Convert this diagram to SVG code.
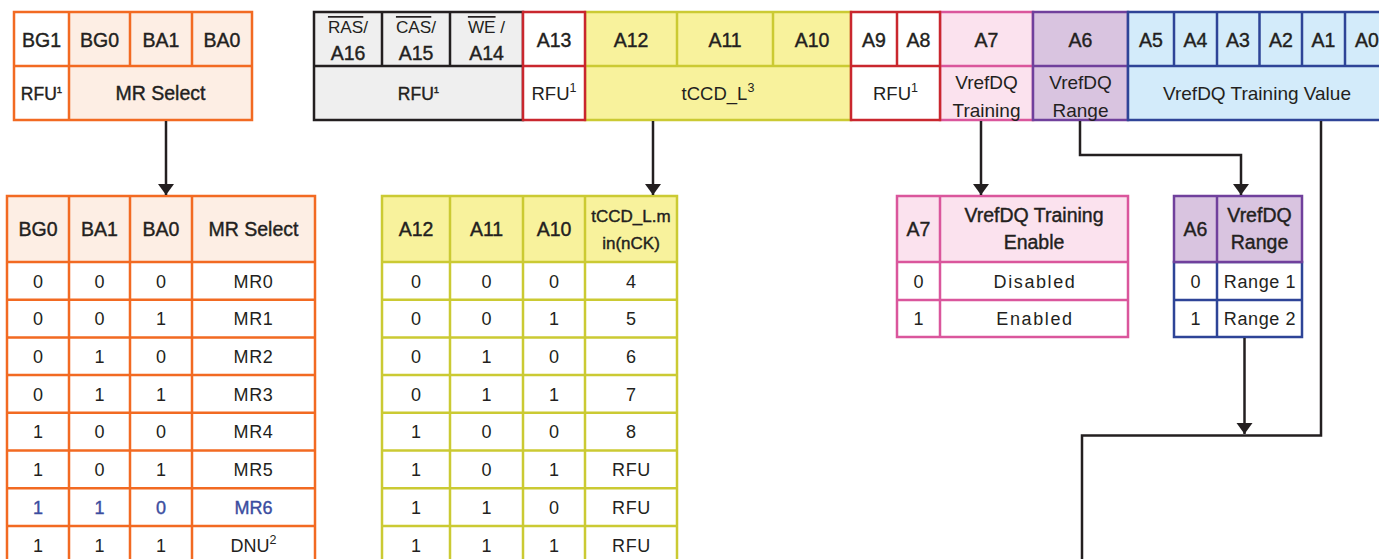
<svg xmlns="http://www.w3.org/2000/svg" width="1379" height="559" viewBox="0 0 1379 559">
<style>
text{font-family:"Liberation Sans",Arial,sans-serif;fill:#231f20;text-anchor:middle}
.hd{font-size:19.5px;stroke:#231f20;stroke-width:0.4}
.bd{font-size:18px}
.ov{font-size:17.2px}
.sp{letter-spacing:0.6px}
.sp2{letter-spacing:1.6px}
.blue{fill:#3B4DA0}
.or{stroke:#F26A22;stroke-width:2.5;fill:none}
.ye{stroke:#CBCA33;stroke-width:2.5;fill:none}
.pk{stroke:#DA569C;stroke-width:2.5;fill:none}
.pu{stroke:#70409C;stroke-width:2.5;fill:none}
.bl{stroke:#2E4497;stroke-width:2.5;fill:none}
.rd{stroke:#C9272E;stroke-width:2.5;fill:none}
.gy{stroke:#231f20;stroke-width:2.5;fill:none}
</style>
<defs>
<marker id="ah" markerUnits="userSpaceOnUse" markerWidth="12" markerHeight="17" refX="11" refY="8" orient="auto" overflow="visible">
<path d="M0,0 L11,8 L0,16 Z" fill="#231f20" stroke="none"/>
</marker>
</defs>
<rect width="1379" height="559" fill="#fff"/>

<g id="hdr-bank">
<rect x="14" y="12" width="238" height="108" fill="#FDEEE4"/>
<rect x="14" y="12" width="55" height="108" fill="#fff"/>
<rect x="14" y="12" width="238" height="108" class="or"/>
<path class="or" d="M69,12V120M130,12V66M192,12V66M14,66H252"/>
<text class="hd" x="41.5" y="46.5">BG1</text>
<text class="hd" x="99.5" y="46.5">BG0</text>
<text class="hd" x="161" y="46.5">BA1</text>
<text class="hd" x="222" y="46.5">BA0</text>
<text class="hd" x="41.5" y="100" style="font-size:17.5px">RFU<tspan font-size="9.5" dy="-7">1</tspan></text>
<text class="hd" x="160.5" y="99.5">MR Select</text>
</g>

<g id="hdr-cmd">
<rect x="314" y="12" width="209" height="108" fill="#EFEFEF"/>
<rect x="314" y="12" width="209" height="108" class="gy"/>
<path class="gy" d="M382,12V66M450,12V66M314,66H523"/>
<text class="bd ov" x="348" y="33"><tspan text-decoration="overline">RAS</tspan>/</text>
<text class="bd ov" x="416" y="33"><tspan text-decoration="overline">CAS</tspan>/</text>
<text class="bd ov" x="486.5" y="33"><tspan text-decoration="overline">WE</tspan> /</text>
<text class="hd" x="348" y="60">A16</text>
<text class="hd" x="416" y="60">A15</text>
<text class="hd" x="486.5" y="60">A14</text>
<text class="hd" x="418.5" y="100" style="font-size:17.5px">RFU<tspan font-size="9.5" dy="-7">1</tspan></text>
</g>

<g id="hdr-tccd">
<rect x="585" y="12" width="266" height="108" fill="#F8F29C"/>
<rect x="585" y="12" width="266" height="108" class="ye"/>
<path class="ye" d="M677,12V66M773,12V66M585,66H851"/>
<text class="hd" x="631" y="46.5">A12</text>
<text class="hd" x="725" y="46.5">A11</text>
<text class="hd" x="812" y="46.5">A10</text>
<text class="bd" x="718" y="100" style="font-size:18.5px">tCCD_L<tspan font-size="12.5" dy="-8">3</tspan></text>
</g>

<g id="hdr-a7">
<rect x="940" y="12" width="93" height="108" fill="#FBE2EE"/>
<rect x="940" y="12" width="93" height="108" class="pk"/>
<path class="pk" d="M940,66H1033"/>
<text class="hd" x="986.5" y="46.5">A7</text>
<text class="bd" x="986.5" y="88.5" style="font-size:19px">VrefDQ</text>
<text class="bd" x="986.5" y="116.5" style="font-size:19px">Training</text>
</g>

<g id="hdr-a6">
<rect x="1033" y="12" width="95" height="108" fill="#D9C4E0"/>
<rect x="1033" y="12" width="95" height="108" class="pu"/>
<path class="pu" d="M1033,66H1128"/>
<text class="hd" x="1080.5" y="46.5">A6</text>
<text class="bd" x="1080.5" y="88.5" style="font-size:19px">VrefDQ</text>
<text class="bd" x="1080.5" y="116.5" style="font-size:19px">Range</text>
</g>

<g id="hdr-value">
<rect x="1128" y="12" width="264" height="108" fill="#D3EBFA"/>
<rect x="1128" y="12" width="264" height="108" class="bl"/>
<path class="bl" d="M1174,12V66M1217,12V66M1259.5,12V66M1302,12V66M1345,12V66M1128,66H1392"/>
<text class="hd" x="1151" y="46.5">A5</text>
<text class="hd" x="1195.5" y="46.5">A4</text>
<text class="hd" x="1238" y="46.5">A3</text>
<text class="hd" x="1281" y="46.5">A2</text>
<text class="hd" x="1323.5" y="46.5">A1</text>
<text class="hd" x="1367" y="46.5">A0</text>
<text class="bd" x="1257" y="100" style="font-size:19px">VrefDQ Training Value</text>
</g>

<g id="hdr-a13">
<rect x="523" y="12" width="62" height="108" fill="#fff"/>
<rect x="523" y="12" width="62" height="108" class="rd"/>
<path class="rd" d="M523,66H585"/>
<text class="hd" x="554" y="46.5">A13</text>
<text class="bd" x="554" y="100" style="font-size:18.5px">RFU<tspan font-size="12.5" dy="-8">1</tspan></text>
</g>

<g id="hdr-a9a8">
<rect x="851" y="12" width="89" height="108" fill="#fff"/>
<rect x="851" y="12" width="89" height="108" class="rd"/>
<path class="rd" d="M897,12V66M851,66H940"/>
<text class="hd" x="874" y="46.5">A9</text>
<text class="hd" x="918.5" y="46.5">A8</text>
<text class="bd" x="895.5" y="100" style="font-size:18.5px">RFU<tspan font-size="12.5" dy="-8">1</tspan></text>
</g>

<g id="tbl-mr">
<rect x="7" y="196" width="308" height="380" fill="#fff"/>
<rect x="7" y="196" width="308" height="66" fill="#FDEEE4"/>
<rect x="7" y="196" width="308" height="380" class="or"/>
<path class="or" d="M69,196V576M130,196V576M192,196V576M7,262H315M7,299.7H315M7,337.4H315M7,375.1H315M7,412.8H315M7,450.5H315M7,488.2H315M7,525.9H315"/>
<text class="hd" x="38" y="236">BG0</text>
<text class="hd" x="99.5" y="236">BA1</text>
<text class="hd" x="161" y="236">BA0</text>
<text class="hd" x="253.5" y="236">MR Select</text>
<text class="bd" x="38" y="287.5">0</text><text class="bd" x="99.5" y="287.5">0</text><text class="bd" x="161" y="287.5">0</text><text class="bd sp" x="253.5" y="287.5">MR0</text>
<text class="bd" x="38" y="325.2">0</text><text class="bd" x="99.5" y="325.2">0</text><text class="bd" x="161" y="325.2">1</text><text class="bd sp" x="253.5" y="325.2">MR1</text>
<text class="bd" x="38" y="362.9">0</text><text class="bd" x="99.5" y="362.9">1</text><text class="bd" x="161" y="362.9">0</text><text class="bd sp" x="253.5" y="362.9">MR2</text>
<text class="bd" x="38" y="400.6">0</text><text class="bd" x="99.5" y="400.6">1</text><text class="bd" x="161" y="400.6">1</text><text class="bd sp" x="253.5" y="400.6">MR3</text>
<text class="bd" x="38" y="438.3">1</text><text class="bd" x="99.5" y="438.3">0</text><text class="bd" x="161" y="438.3">0</text><text class="bd sp" x="253.5" y="438.3">MR4</text>
<text class="bd" x="38" y="476">1</text><text class="bd" x="99.5" y="476">0</text><text class="bd" x="161" y="476">1</text><text class="bd sp" x="253.5" y="476">MR5</text>
<text class="bd blue" x="38" y="513.7" style="stroke:#3B4DA0;stroke-width:0.4">1</text><text class="bd blue" x="99.5" y="513.7" style="stroke:#3B4DA0;stroke-width:0.4">1</text><text class="bd blue" x="161" y="513.7" style="stroke:#3B4DA0;stroke-width:0.4">0</text><text class="bd blue" x="253.5" y="513.7" style="stroke:#3B4DA0;stroke-width:0.4">MR6</text>
<text class="bd" x="38" y="552">1</text><text class="bd" x="99.5" y="552">1</text><text class="bd" x="161" y="552">1</text><text class="bd" x="253.5" y="552">DNU<tspan font-size="12.5" dy="-8">2</tspan></text>
</g>

<g id="tbl-tccd">
<rect x="382" y="196" width="295" height="380" fill="#fff"/>
<rect x="382" y="196" width="295" height="66" fill="#F8F29C"/>
<rect x="382" y="196" width="295" height="380" class="ye"/>
<path class="ye" d="M450,196V576M523,196V576M585,196V576M382,262H677M382,299.7H677M382,337.4H677M382,375.1H677M382,412.8H677M382,450.5H677M382,488.2H677M382,525.9H677"/>
<text class="hd" x="416" y="236">A12</text>
<text class="hd" x="486.5" y="236">A11</text>
<text class="hd" x="554" y="236">A10</text>
<text class="hd" x="631" y="222" style="font-size:17px">tCCD_L.m</text>
<text class="hd" x="631" y="248.5" style="font-size:17px">in(nCK)</text>
<text class="bd" x="416" y="287.5">0</text><text class="bd" x="486.5" y="287.5">0</text><text class="bd" x="554" y="287.5">0</text><text class="bd" x="631" y="287.5">4</text>
<text class="bd" x="416" y="325.2">0</text><text class="bd" x="486.5" y="325.2">0</text><text class="bd" x="554" y="325.2">1</text><text class="bd" x="631" y="325.2">5</text>
<text class="bd" x="416" y="362.9">0</text><text class="bd" x="486.5" y="362.9">1</text><text class="bd" x="554" y="362.9">0</text><text class="bd" x="631" y="362.9">6</text>
<text class="bd" x="416" y="400.6">0</text><text class="bd" x="486.5" y="400.6">1</text><text class="bd" x="554" y="400.6">1</text><text class="bd" x="631" y="400.6">7</text>
<text class="bd" x="416" y="438.3">1</text><text class="bd" x="486.5" y="438.3">0</text><text class="bd" x="554" y="438.3">0</text><text class="bd" x="631" y="438.3">8</text>
<text class="bd" x="416" y="476">1</text><text class="bd" x="486.5" y="476">0</text><text class="bd" x="554" y="476">1</text><text class="bd sp" x="631.5" y="476">RFU</text>
<text class="bd" x="416" y="513.7">1</text><text class="bd" x="486.5" y="513.7">1</text><text class="bd" x="554" y="513.7">0</text><text class="bd sp" x="631.5" y="513.7">RFU</text>
<text class="bd" x="416" y="552">1</text><text class="bd" x="486.5" y="552">1</text><text class="bd" x="554" y="552">1</text><text class="bd sp" x="631.5" y="552">RFU</text>
</g>

<g id="tbl-a7">
<rect x="897" y="196" width="231" height="141" fill="#fff"/>
<rect x="897" y="196" width="231" height="66" fill="#FBE2EE"/>
<rect x="897" y="196" width="231" height="141" class="pk"/>
<path class="pk" d="M940,196V337M897,262H1128M897,300H1128"/>
<text class="hd" x="918.5" y="236">A7</text>
<text class="hd" x="1034" y="222">VrefDQ Training</text>
<text class="hd" x="1034" y="249">Enable</text>
<text class="bd" x="918.5" y="287.5">0</text>
<text class="bd sp2" x="1035" y="287.5">Disabled</text>
<text class="bd" x="918.5" y="325.2">1</text>
<text class="bd sp2" x="1035" y="325.2">Enabled</text>
</g>

<g id="tbl-a6">
<rect x="1174" y="262" width="128" height="75" fill="#fff"/>
<rect x="1174" y="262" width="128" height="75" class="bl"/>
<path class="bl" d="M1217,262V337M1174,300H1302"/>
<rect x="1174" y="196" width="128" height="66" fill="#D9C4E0"/>
<rect x="1174" y="196" width="128" height="66" class="pu"/>
<path class="pu" d="M1217,196V262"/>
<text class="hd" x="1195.5" y="236">A6</text>
<text class="hd" x="1259.5" y="222">VrefDQ</text>
<text class="hd" x="1259.5" y="249">Range</text>
<text class="bd" x="1195.5" y="287.5">0</text>
<text class="bd sp" x="1260" y="287.5">Range 1</text>
<text class="bd" x="1195.5" y="325.2">1</text>
<text class="bd sp" x="1260" y="325.2">Range 2</text>
</g>

<g id="connectors" fill="none" stroke="#231f20" stroke-width="2.5">
<path d="M166,121V195" marker-end="url(#ah)"/>
<path d="M653,121V195" marker-end="url(#ah)"/>
<path d="M981,121V195" marker-end="url(#ah)"/>
<path d="M1080,121V155H1241V195" marker-end="url(#ah)"/>
<path d="M1244.5,338V434" marker-end="url(#ah)"/>
<path d="M1321,121V435.5H1082V565"/>
</g>
</svg>
